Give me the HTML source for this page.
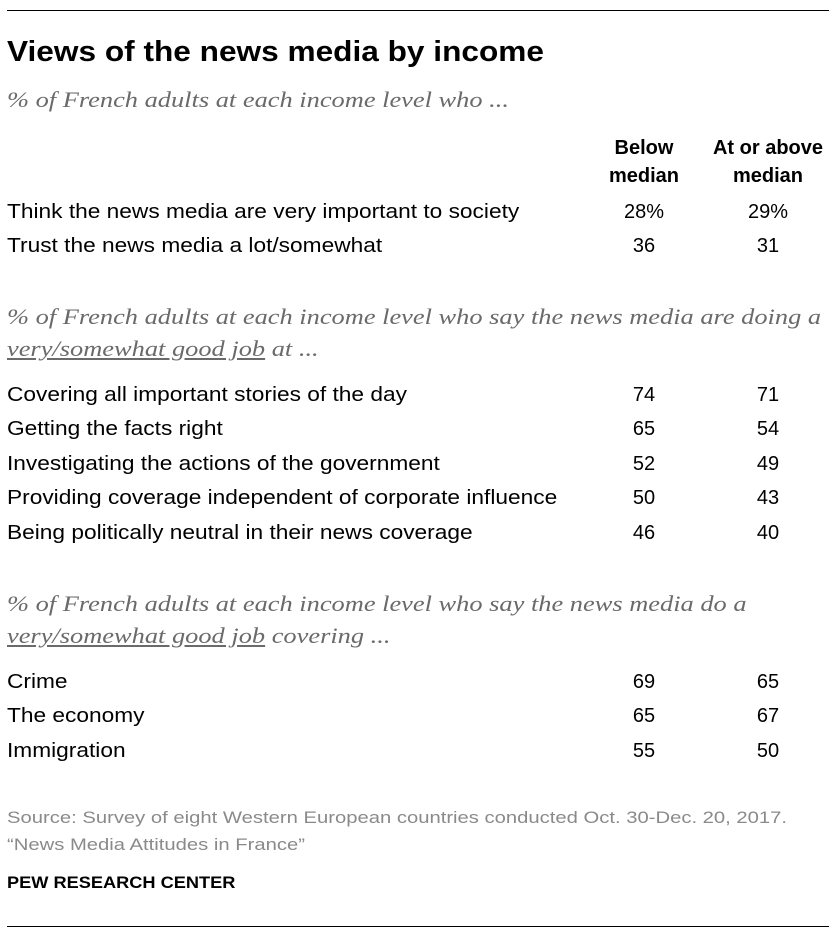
<!DOCTYPE html>
<html><head><meta charset="utf-8"><style>
body{margin:0;background:#fff;width:836px;height:938px;position:relative;overflow:hidden;font-family:"Liberation Sans",Arial,sans-serif;color:#000}
div{position:absolute;white-space:nowrap}
.hr{height:1px;background:#000;left:7px;width:822px}
.t{left:7px;font-size:29px;font-weight:bold;line-height:34px;transform:scaleX(1.09);transform-origin:0 0}
.s{left:7px;font-family:"Liberation Serif",Georgia,serif;font-style:italic;font-size:22px;color:#6a6a6a;line-height:32px;transform:scaleX(1.2);transform-origin:0 0}
.r{left:7px;font-size:20px;line-height:26px;transform:scaleX(1.135);transform-origin:0 0}
.c1,.c2{font-size:20px;line-height:26px;text-align:center;width:140px}
.c1{left:574px}.c2{left:698px}
.h{font-weight:bold}
.u{text-decoration:underline}
.src{left:7px;font-size:17px;color:#8a8a8a;line-height:22px;transform:scaleX(1.19);transform-origin:0 0}
</style></head><body>
<div class="hr" style="top:10px"></div>
<div class="t" style="top:35px">Views of the news media by income</div>
<div class="s" style="top:84px">% of French adults at each income level who ...</div>
<div class="c1 h" style="top:135px">Below</div>
<div class="c1 h" style="top:163px">median</div>
<div class="c2 h" style="top:135px">At or above</div>
<div class="c2 h" style="top:163px">median</div>

<div class="r" style="top:199px">Think the news media are very important to society</div><div class="c1" style="top:199px">28%</div><div class="c2" style="top:199px">29%</div>
<div class="r" style="top:233px">Trust the news media a lot/somewhat</div><div class="c1" style="top:233px">36</div><div class="c2" style="top:233px">31</div>

<div class="s" style="top:301px">% of French adults at each income level who say the news media are doing a</div>
<div class="s" style="top:333px"><span class="u">very/somewhat good job</span> at ...</div>

<div class="r" style="top:382px">Covering all important stories of the day</div><div class="c1" style="top:382px">74</div><div class="c2" style="top:382px">71</div>
<div class="r" style="top:416px">Getting the facts right</div><div class="c1" style="top:416px">65</div><div class="c2" style="top:416px">54</div>
<div class="r" style="top:451px">Investigating the actions of the government</div><div class="c1" style="top:451px">52</div><div class="c2" style="top:451px">49</div>
<div class="r" style="top:485px">Providing coverage independent of corporate influence</div><div class="c1" style="top:485px">50</div><div class="c2" style="top:485px">43</div>
<div class="r" style="top:520px">Being politically neutral in their news coverage</div><div class="c1" style="top:520px">46</div><div class="c2" style="top:520px">40</div>

<div class="s" style="top:588px">% of French adults at each income level who say the news media do a</div>
<div class="s" style="top:620px"><span class="u">very/somewhat good job</span> covering ...</div>

<div class="r" style="top:669px">Crime</div><div class="c1" style="top:669px">69</div><div class="c2" style="top:669px">65</div>
<div class="r" style="top:703px">The economy</div><div class="c1" style="top:703px">65</div><div class="c2" style="top:703px">67</div>
<div class="r" style="top:738px">Immigration</div><div class="c1" style="top:738px">55</div><div class="c2" style="top:738px">50</div>

<div class="src" style="top:807px">Source: Survey of eight Western European countries conducted Oct. 30-Dec. 20, 2017.</div>
<div class="src" style="top:834px">“News Media Attitudes in France”</div>
<div class="src" style="top:872px;color:#000;font-weight:bold;transform:scaleX(1.07)">PEW RESEARCH CENTER</div>
<div class="hr" style="top:926px"></div>
</body></html>
